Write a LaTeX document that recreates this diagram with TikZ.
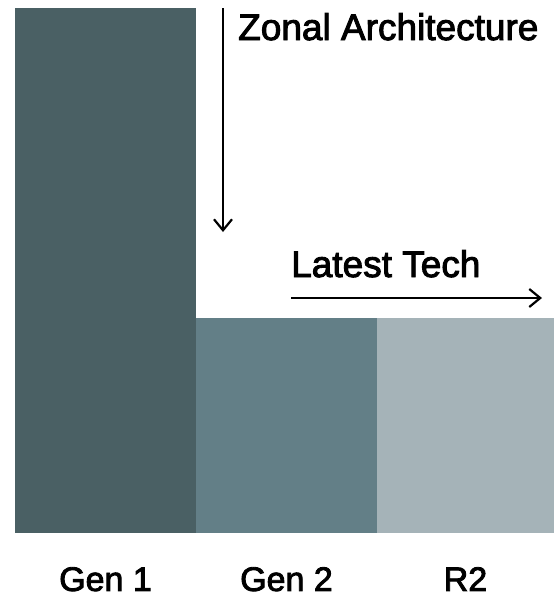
\documentclass[tikz,border=0pt]{standalone}
\usepackage{fontspec}
\setmainfont{Liberation Sans}
\newfontfamily\medfont[FakeBold=2.5]{Liberation Sans}
\usetikzlibrary{arrows.meta, positioning}
\definecolor{genone}{RGB}{74,96,100}
\definecolor{gentwo}{RGB}{99,127,135}
\definecolor{rtwo}{RGB}{165,179,184}

\begin{document}
\begin{tikzpicture}[
  x=1pt, y=-1pt,
  bar/.style={inner sep=0pt, outer sep=0pt, anchor=south west},
  arr/.style={-{Straight Barb[length=11pt, width=18pt]}, line width=2.2pt, black},
  lbl/.style={font=\medfont\fontsize{34}{34}\selectfont, inner sep=0pt},
  hdr/.style={font=\medfont\fontsize{37}{37}\selectfont, inner sep=0pt, anchor=base west}
]
  \useasboundingbox (0,0) rectangle (554,598);

  \node[bar, fill=genone, minimum width=181pt, minimum height=525pt] (gen1) at (15,533) {};
  \node[bar, fill=gentwo, minimum width=181pt, minimum height=215pt] (gen2) at (gen1.south east) {};
  \node[bar, fill=rtwo, minimum width=177pt, minimum height=215pt] (r2) at (gen2.south east) {};

  \node[lbl, below=34pt of gen1] (gen1lbl) {Gen 1};
  \node[lbl, below=34pt of gen2] (gen2lbl) {Gen 2};
  \node[lbl, below=34pt of r2] (r2lbl) {R2};

  % zonal arrow
  \coordinate (ztop) at (223,8);
  \coordinate (zend) at (223,232);
  \draw[arr] (ztop) -- (zend);
  \node[hdr] (zonal) at (238,40) {Zonal Architecture};

  % latest tech arrow
  \node[hdr] (latest) at (291,277) {Latest Tech};
  \coordinate (lstart) at (291,298);
  \coordinate (lend) at (542,298);
  \draw[arr] (lstart) -- (lend);
\end{tikzpicture}
\end{document}
